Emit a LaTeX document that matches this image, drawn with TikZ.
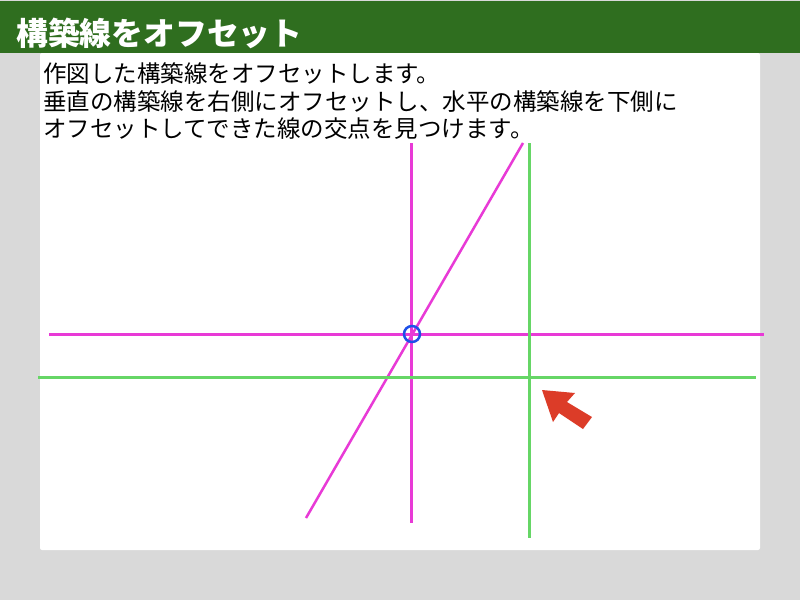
\documentclass[tikz,border=0pt]{standalone}
\usepackage{fontspec}
\newfontfamily\cjk{Noto Sans CJK JP}
\definecolor{bggray}{RGB}{217,217,217}
\definecolor{hdrgreen}{RGB}{47,110,31}
\definecolor{mag}{RGB}{232,58,214}
\definecolor{grn}{RGB}{102,214,102}
\definecolor{circblue}{RGB}{30,80,232}
\definecolor{arrred}{RGB}{220,60,40}
\tikzset{
  body/.style={anchor=base west, inner sep=0pt, font=\cjk\fontsize{23.5}{27}\selectfont, text=black},
  title/.style={anchor=base west, inner sep=0pt, font=\cjk\bfseries\fontsize{31.8}{34}\selectfont, text=white},
  magline/.style={draw=mag, line width=3pt},
  grnline/.style={draw=grn, line width=3pt},
}
\begin{document}
\begin{tikzpicture}[x=1pt,y=-1pt]
\useasboundingbox (0,0) rectangle (800,600);
\fill[bggray] (0,0) rectangle (800,600);
\fill[hdrgreen] (0,1) rectangle (800,53);
\fill[white, rounded corners=2pt] (40,53) rectangle (760,550);
\node[title] (ttl) at (16,45.5) {構築線をオフセット};
\node[body] (l1) at (43,82) {作図した構築線をオフセットします。};
\node[body] (l2) at (43,110) {垂直の構築線を右側にオフセットし、水平の構築線を下側に};
\node[body] (l3) at (43,137) {オフセットしてできた線の交点を見つけます。};
% construction lines
\draw[magline] (49,334) -- (764,334);
\draw[magline] (411,143) -- (411,523);
\draw[magline, line width=2.5pt] (306,518) -- (523,143);
% offset lines
\draw[grnline] (38,377) -- (756,377);
\draw[grnline] (529,143) -- (529,538);
% circle
\draw[circblue, line width=2.5pt] (412,334) circle (8);
% red arrow
\fill[arrred] (542,390) -- (575,393) -- (567,402) -- (592,417) -- (583,429) -- (559,413) -- (553,422) -- cycle;
\end{tikzpicture}
\end{document}
